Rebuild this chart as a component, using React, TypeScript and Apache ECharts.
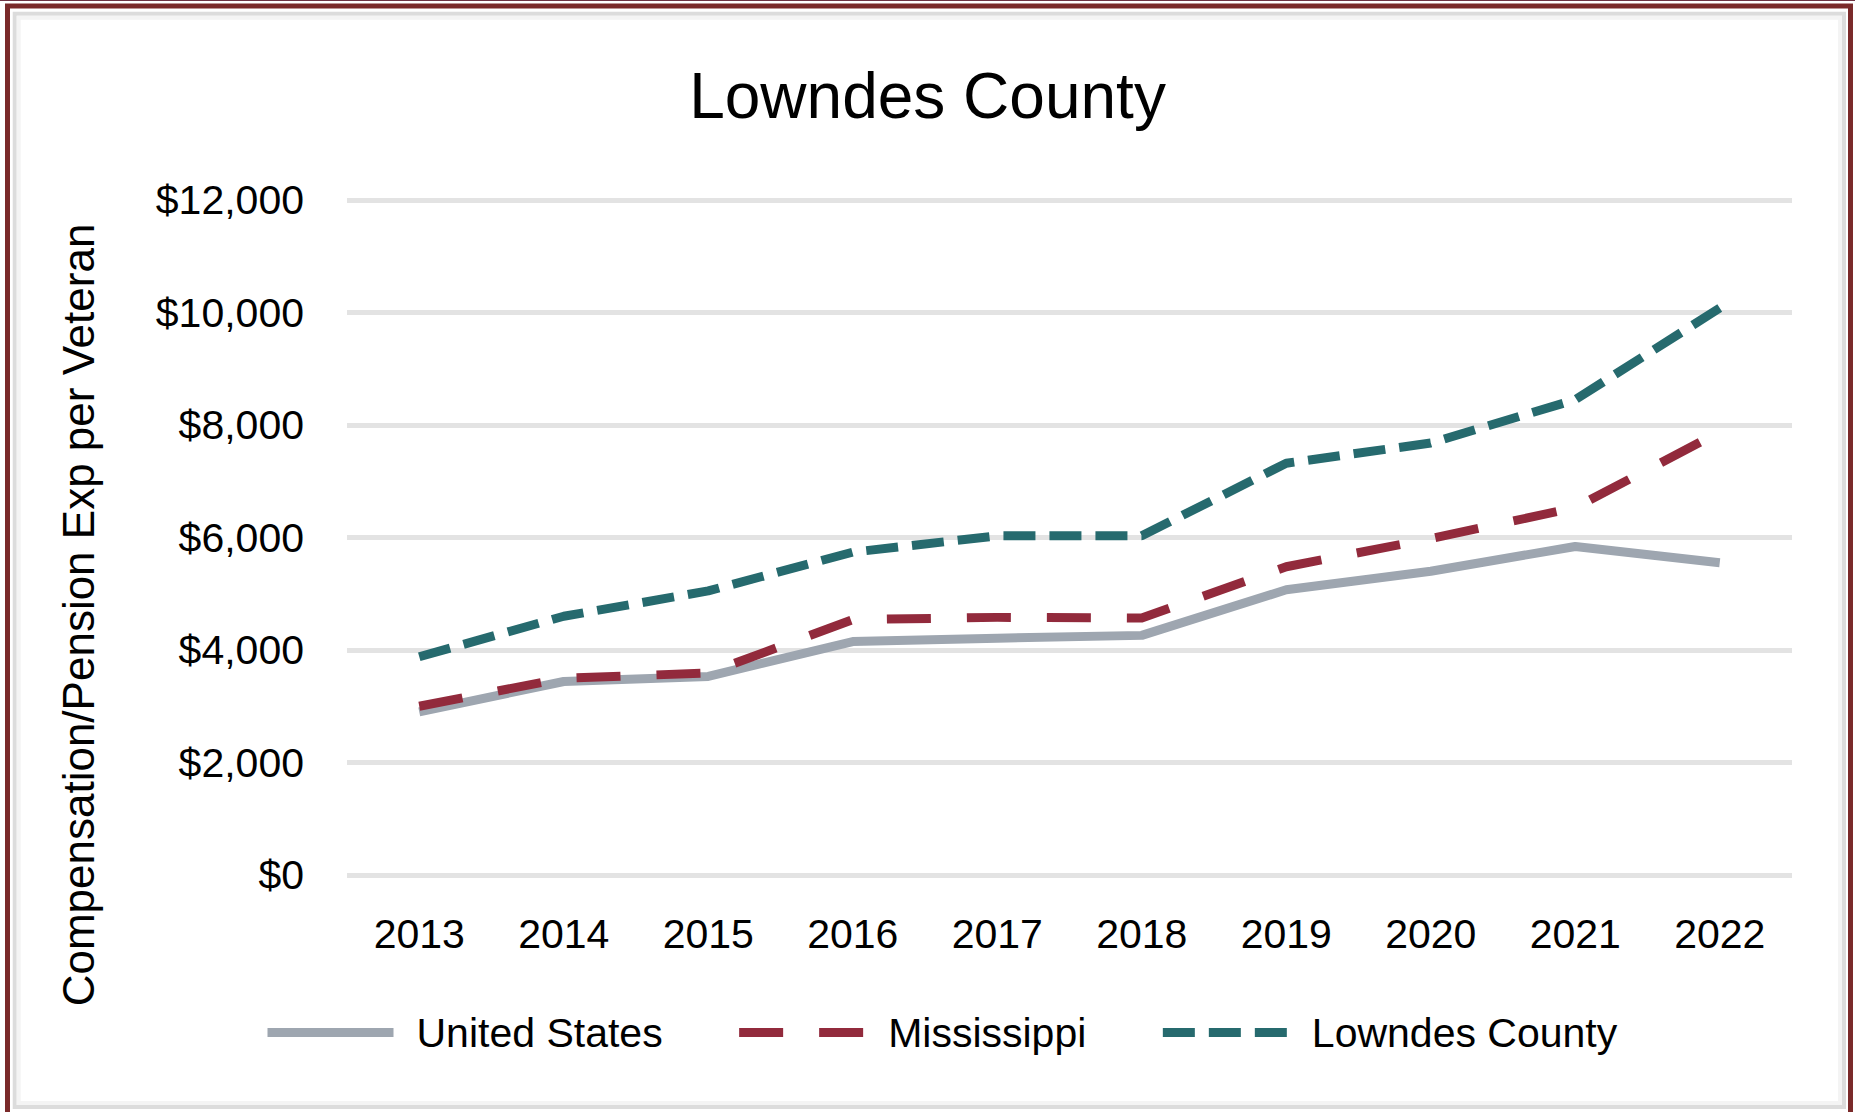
import { useEffect, useRef } from "react";
import * as echarts from "echarts";

const years = ["2013", "2014", "2015", "2016", "2017", "2018", "2019", "2020", "2021", "2022"];
const unitedStates = [2900, 3440, 3530, 4150, 4210, 4260, 5070, 5400, 5840, 5550];
const mississippi = [3000, 3500, 3590, 4540, 4580, 4570, 5480, 5980, 6530, 7880];
const lowndesCounty = [3880, 4600, 5050, 5740, 6030, 6030, 7320, 7680, 8450, 10080];
const seriesNames = ["United States", "Mississippi", "Lowndes County"];
const yMin = 0;
const yMax = 12000;
const yStep = 2000;
const titleText = "Lowndes County";
const yAxisTitle = "Compensation/Pension Exp per Veteran";

const FONT = "'Liberation Sans', Arial, Helvetica, sans-serif";

function money(v: number): string {
  return "$" + v.toLocaleString("en-US");
}

export default function App() {
  const ref = useRef<HTMLDivElement>(null);

  useEffect(() => {
    if (!ref.current) return;
    const chart = echarts.init(ref.current, undefined, { renderer: "svg" });
    chart.setOption({
      animation: false,
      backgroundColor: "#ffffff",
      title: {
        text: titleText,
        left: "center",
        top: 64,
        padding: 0,
        textStyle: { fontFamily: FONT, fontSize: 64, fontWeight: "normal", color: "#000000" },
      },
      grid: { left: 347, right: 63, top: 200, bottom: 237, containLabel: false },
      legend: {
        data: seriesNames,
        left: 263,
        top: 1012,
        padding: 0,
        itemWidth: 126,
        itemHeight: 20,
        itemGap: 72,
        textStyle: { fontFamily: FONT, fontSize: 41, color: "#000000", padding: [0, 0, 0, 18] },
        itemStyle: { opacity: 0 },
        lineStyle: { width: 9 },
      },
      xAxis: {
        type: "category",
        data: years,
        boundaryGap: true,
        axisLine: { show: false },
        axisTick: { show: false },
        axisLabel: { fontFamily: FONT, fontSize: 41, color: "#000000", margin: 38 },
        splitLine: { show: false },
      },
      yAxis: {
        type: "value",
        min: yMin,
        max: yMax,
        interval: yStep,
        axisLine: { show: false },
        axisTick: { show: false },
        axisLabel: {
          fontFamily: FONT,
          fontSize: 41,
          color: "#000000",
          margin: 43,
          formatter: (v: number) => money(v),
        },
        splitLine: { show: true, lineStyle: { color: "#e3e3e3", width: 5 } },
      },
      graphic: [
        {
          type: "rect",
          silent: true,
          shape: { x: 7.5, y: 6, width: 1843, height: 1120 },
          style: { fill: "none", stroke: "#7a2a2a", lineWidth: 5 },
        },
        {
          type: "line",
          silent: true,
          shape: { x1: 0, y1: 0.5, x2: 1855, y2: 0.5 },
          style: { stroke: "#6e3444", lineWidth: 1 },
        },
        {
          type: "rect",
          silent: true,
          shape: { x: 14.7, y: 13.8, width: 1829.3, height: 1093.2 },
          style: { fill: "none", stroke: "#dcdcdc", lineWidth: 4 },
        },
        {
          type: "rect",
          silent: true,
          shape: { x: 18.7, y: 17.8, width: 1821.3, height: 1085.2 },
          style: { fill: "none", stroke: "#f4f4f4", lineWidth: 4 },
        },
        {
          type: "text",
          silent: true,
          x: 78,
          y: 615,
          rotation: Math.PI / 2,
          style: {
            text: yAxisTitle,
            fontFamily: FONT,
            fontSize: 44,
            fill: "#000000",
            textAlign: "center",
            textVerticalAlign: "middle",
          },
        },
      ],
      series: [
        {
          name: seriesNames[0],
          type: "line",
          data: unitedStates,
          symbol: "none",
          itemStyle: { color: "#9ea6b0" },
          lineStyle: { color: "#9ea6b0", width: 9, type: "solid", join: "round", cap: "butt" },
          z: 2,
        },
        {
          name: seriesNames[1],
          type: "line",
          data: mississippi,
          symbol: "none",
          itemStyle: { color: "#922a3c" },
          lineStyle: { color: "#922a3c", width: 9, type: [44, 36], join: "round", cap: "butt" },
          z: 3,
        },
        {
          name: seriesNames[2],
          type: "line",
          data: lowndesCounty,
          symbol: "none",
          itemStyle: { color: "#266a6e" },
          lineStyle: { color: "#266a6e", width: 9, type: [32, 14], join: "round", cap: "butt" },
          z: 4,
        },
      ],
    });
    return () => chart.dispose();
  }, []);

  return (
    <div
      ref={ref}
      style={{ position: "fixed", left: 0, top: 0, width: 1855, height: 1112, background: "#ffffff" }}
    />
  );
}
